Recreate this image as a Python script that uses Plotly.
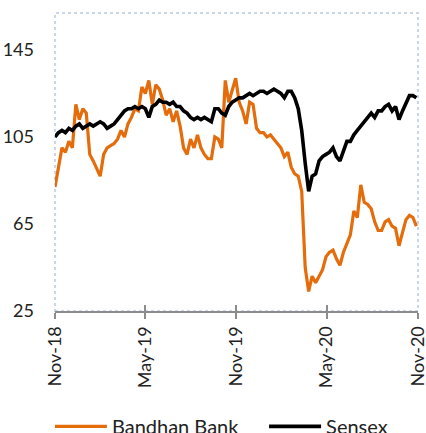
import pandas as pd
import plotly.graph_objects as go

# Weekly readings, starting 1 Nov 2018
start_date = "2018-11-01"
bandhan = [82, 92, 100, 98, 103, 100, 120, 113, 118, 116,
           97, 94, 90, 87, 97, 100, 101, 102, 104, 108,
           105, 111, 114, 118, 117, 128, 125, 131, 120, 129,
           127, 122, 115, 118, 112, 117, 110, 100, 97, 104,
           100, 106, 100, 97, 95, 95, 105, 104, 100, 131,
           121, 127, 132, 121, 117, 111, 121, 120, 109, 107,
           107, 105, 106, 104, 102, 100, 96, 98, 91, 88,
           87, 80, 45, 34, 41, 38, 41, 44, 50, 52,
           53, 49, 46, 52, 56, 60, 71, 68, 83, 75,
           74, 72, 66, 62, 62, 66, 67, 64, 63, 55,
           61, 67, 69, 68, 64]
sensex = [105, 107, 108, 107, 109, 108, 110, 111, 109, 110,
          111, 110, 111, 112, 111, 109, 110, 111, 113, 115,
          117, 118, 118, 119, 118, 119, 118, 114, 119, 120,
          122, 121, 121, 120, 121, 119, 119, 117, 116, 114,
          113, 114, 113, 114, 113, 112, 118, 118, 116, 115,
          119, 121, 122, 123, 123, 124, 125, 124, 125, 126,
          126, 125, 126, 127, 126, 125, 123, 126, 126, 123,
          118, 108, 93, 80, 87, 88, 94, 96, 97, 98,
          100, 96, 94, 99, 103, 103, 106, 108, 110, 112,
          114, 116, 114, 117, 117, 119, 120, 117, 119, 113,
          117, 121, 124, 124, 123]

tick_dates = ["2018-11-01", "2019-05-01", "2019-11-01", "2020-05-01", "2020-11-01"]
tick_labels = ["Nov-18", "May-19", "Nov-19", "May-20", "Nov-20"]
y_ticks = [25, 65, 105, 145]

dates = pd.date_range(start_date, periods=len(bandhan), freq="7D")

FONT = "Lato, Carlito, Calibri, sans-serif"

fig = go.Figure()
fig.add_trace(go.Scatter(x=dates, y=bandhan, mode="lines", name="Bandhan Bank",
                         line=dict(color="#E46C0A", width=3.2), legend="legend"))
fig.add_trace(go.Scatter(x=dates, y=sensex, mode="lines", name="Sensex",
                         line=dict(color="#000000", width=3.6), legend="legend2"))

legend_style = dict(orientation="h", xanchor="left", y=-0.387, yanchor="middle",
                    font=dict(size=20, color="#222"), itemwidth=52,
                    bgcolor="rgba(0,0,0,0)")

fig.update_layout(
    width=426, height=433,
    margin=dict(l=55, r=8, t=13, b=122, autoexpand=False),
    paper_bgcolor="white", plot_bgcolor="white",
    font=dict(family=FONT, size=17, color="#222"),
    showlegend=True,
    legend=dict(x=-0.014, **legend_style),
    legend2=dict(x=0.576, **legend_style),
    xaxis=dict(range=["2018-11-01", "2020-11-01 06:00"], tickvals=tick_dates, ticktext=tick_labels,
               tickangle=-90, showgrid=False, zeroline=False, automargin=False,
               ticklabeloverflow="allow",
               showline=True, linecolor="#8c8c8c", linewidth=2,
               ticks="outside", ticklen=6, tickwidth=2, tickcolor="#8c8c8c",
               tickfont=dict(size=18, color="#222")),
    xaxis2=dict(matches="x", overlaying="x", anchor="y", side="bottom", automargin=False,
                tickvals=tick_dates, showticklabels=False, showgrid=False, zeroline=False,
                ticks="inside", ticklen=6, tickwidth=2, tickcolor="#8c8c8c", showline=False),
    yaxis=dict(range=[25, 162], tickvals=y_ticks, showgrid=False, zeroline=False,
               showline=False, ticks="", ticklabelstandoff=20, automargin=False,
               tickfont=dict(size=18, color="#222")),
    shapes=[dict(type="rect", xref="paper", yref="paper", x0=0, x1=1, y0=0, y1=1,
                 line=dict(color="#c9d6ee", width=2, dash="dot"), layer="below")],
)
# invisible trace to activate the overlaid tick axis
fig.add_trace(go.Scatter(x=[dates[0]], y=[None], xaxis="x2", showlegend=False,
                         hoverinfo="skip"))

fig.write_html("out.html", config={"displayModeBar": False},
               post_script="document.body.style.margin='0';document.body.style.overflow='hidden';")
